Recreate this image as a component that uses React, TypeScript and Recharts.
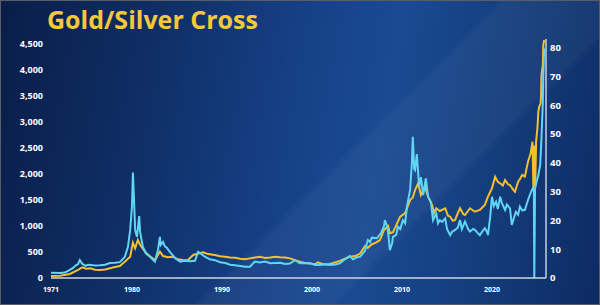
import React from 'react';
import { LineChart, Line, XAxis, YAxis } from 'recharts';

const TITLE = 'Gold/Silver Cross';
const yearTicks = [1971, 1980, 1990, 2000, 2010, 2020];
const goldTicks = [0, 500, 1000, 1500, 2000, 2500, 3000, 3500, 4000, 4500];
const silverTicks = [0, 10, 20, 30, 40, 50, 60, 70, 80];

// [year, gold price USD/oz] (left axis)
const gold: [number, number][] = [
  [1971.0, 38], [1972.0, 45], [1973.1, 77], [1974.0, 154], [1974.45, 206], [1974.9, 180],
  [1975.35, 187], [1975.9, 160], [1976.45, 154], [1977.0, 165], [1977.55, 187], [1978.1, 210],
  [1978.65, 231], [1979.2, 314], [1979.8, 410], [1980.1, 680], [1980.35, 571], [1980.65, 731],
  [1980.9, 640], [1981.1, 590], [1981.55, 487], [1982.0, 420], [1982.55, 346], [1982.8, 420],
  [1983.1, 507], [1983.45, 423], [1984.0, 400], [1984.55, 410], [1985.1, 360], [1985.65, 346],
  [1986.2, 340], [1986.8, 443], [1987.35, 470], [1987.9, 494], [1988.45, 460], [1989.2, 443],
  [1989.8, 420], [1990.35, 410], [1990.9, 395], [1991.45, 391], [1992.0, 370], [1992.55, 360],
  [1993.1, 378], [1993.65, 395], [1994.2, 410], [1994.8, 385], [1995.35, 395], [1995.9, 410],
  [1996.45, 400], [1997.0, 395], [1997.55, 378], [1998.1, 345], [1998.65, 314], [1999.2, 290],
  [1999.8, 280], [2000.35, 265], [2000.65, 300], [2001.1, 275], [2001.55, 260], [2002.0, 270],
  [2002.55, 300], [2003.1, 330], [2003.65, 370], [2004.2, 410], [2004.8, 423], [2005.35, 470],
  [2005.9, 616], [2006.2, 580], [2006.65, 650], [2007.1, 680], [2007.55, 731], [2008.0, 924],
  [2008.45, 1000], [2008.65, 860], [2009.0, 880], [2009.2, 956], [2009.8, 1180], [2010.35, 1250],
  [2010.9, 1501], [2011.2, 1550], [2011.45, 1694], [2011.8, 1823], [2012.1, 1598], [2012.55, 1758],
  [2012.9, 1565], [2013.35, 1405], [2013.55, 1250], [2013.8, 1342], [2014.2, 1290], [2014.8, 1342],
  [2015.1, 1200], [2015.35, 1180], [2015.65, 1100], [2015.9, 1117], [2016.2, 1250], [2016.45, 1342],
  [2016.8, 1230], [2017.0, 1213], [2017.55, 1342], [2018.1, 1276], [2018.65, 1309], [2019.2, 1405],
  [2019.55, 1565], [2020.0, 1727], [2020.35, 1950], [2020.65, 1850], [2020.9, 1823], [2021.2, 1780],
  [2021.45, 1886], [2021.8, 1800], [2022.0, 1790], [2022.35, 1700], [2022.55, 1661], [2022.9, 1854],
  [2023.1, 1900], [2023.35, 1983], [2023.65, 1950], [2024.0, 2239], [2024.3, 2400], [2024.5, 2624],
  [2024.6, 1733], [2024.7, 2550], [2024.8, 1760], [2024.9, 2624], [2025.05, 2888], [2025.15, 3201],
  [2025.25, 3298], [2025.4, 3362], [2025.45, 3523], [2025.5, 3908], [2025.65, 4100], [2025.7, 4485],
  [2025.8, 4580],
];

// [year, silver price USD/oz] (right axis)
const silver: [number, number][] = [
  [1971.0, 1.8], [1972.0, 1.7], [1972.55, 1.9], [1973.1, 2.8], [1973.45, 3.5], [1973.8, 4.5],
  [1974.0, 4.8], [1974.2, 6.2], [1974.45, 5.0], [1974.8, 4.2], [1975.1, 4.6], [1975.35, 4.5],
  [1975.9, 4.3], [1976.45, 4.4], [1977.0, 4.6], [1977.55, 5.2], [1978.1, 5.3], [1978.65, 5.5],
  [1979.2, 7.3], [1979.55, 10.8], [1979.8, 16.7], [1980.0, 25], [1980.1, 36.6], [1980.2, 29],
  [1980.35, 16.7], [1980.55, 14.3], [1980.8, 21.5], [1980.9, 16], [1981.2, 10.9], [1981.55, 8.5],
  [1982.0, 7.4], [1982.55, 5.7], [1982.9, 10], [1983.1, 14.3], [1983.2, 11.5], [1983.45, 12.5],
  [1983.65, 11], [1983.9, 10.4], [1984.2, 9.1], [1984.8, 6.9], [1985.35, 5.7], [1985.9, 6.0],
  [1986.45, 5.8], [1987.0, 6.0], [1987.35, 9.1], [1987.55, 8.7], [1988.1, 7.4], [1988.65, 6.5],
  [1989.2, 6.2], [1989.8, 5.5], [1990.35, 5.2], [1990.9, 4.6], [1991.45, 4.4], [1992.0, 4.2],
  [1992.55, 3.9], [1993.1, 3.9], [1993.65, 5.7], [1994.2, 5.4], [1994.8, 5.7], [1995.35, 5.1],
  [1995.9, 5.2], [1996.45, 5.3], [1997.0, 4.9], [1997.55, 5.0], [1998.1, 6.2], [1998.65, 5.1],
  [1999.2, 5.2], [1999.8, 5.1], [2000.35, 4.5], [2000.9, 4.5], [2001.45, 4.8], [2002.0, 4.5],
  [2002.55, 4.7], [2003.1, 5.1], [2003.65, 6.5], [2004.2, 7.6], [2004.55, 6.5], [2005.0, 7.2],
  [2005.35, 7.4], [2005.9, 9.5], [2006.2, 13.2], [2006.45, 12.5], [2006.65, 14], [2007.2, 13.8],
  [2007.65, 15.5], [2008.0, 18], [2008.1, 20.1], [2008.35, 17.8], [2008.45, 16], [2008.65, 9.7],
  [2008.9, 12], [2009.0, 14.3], [2009.35, 15], [2009.55, 17.8], [2009.8, 17], [2010.1, 20.1],
  [2010.35, 19], [2010.55, 24.8], [2010.9, 30.6], [2011.1, 40], [2011.2, 49], [2011.35, 38],
  [2011.45, 37.5], [2011.65, 43], [2011.9, 31.7], [2012.1, 35], [2012.35, 28.8], [2012.65, 34.6],
  [2012.9, 28.2], [2013.2, 26.5], [2013.45, 20.1], [2013.8, 22.5], [2014.0, 19], [2014.2, 20.1],
  [2014.45, 19.5], [2014.8, 20.7], [2015.0, 17], [2015.35, 14.9], [2015.55, 16], [2015.9, 16.7],
  [2016.2, 17.5], [2016.45, 20.1], [2016.65, 17], [2017.0, 19.6], [2017.35, 17], [2017.55, 16.1],
  [2017.9, 17], [2018.1, 16.7], [2018.45, 15.5], [2018.65, 14.9], [2019.0, 16.5], [2019.2, 17.3],
  [2019.45, 16.0], [2019.55, 14.9], [2019.8, 21.3], [2020.0, 28.2], [2020.2, 25], [2020.45, 26.5],
  [2020.65, 24], [2020.9, 28.2], [2021.1, 26], [2021.45, 23.6], [2021.65, 25.5], [2022.0, 24.2],
  [2022.2, 18.4], [2022.45, 21], [2022.65, 23], [2022.9, 22], [2023.1, 24.8], [2023.35, 23.5],
  [2023.65, 23.6], [2024.0, 27.1], [2024.35, 30], [2024.55, 31.2], [2024.65, 30.8], [2024.7, 0],
  [2024.78, 31], [2024.95, 33.4], [2025.15, 35.8], [2025.35, 39.2], [2025.45, 45], [2025.55, 53],
  [2025.65, 61.2], [2025.7, 70.5], [2025.8, 79.7],
];

const GOLD_COLOR = '#F4C02E';
const SILVER_COLOR = '#62D5F3';
const FONT = '"Open Sans", "DejaVu Sans", sans-serif';

export default function App() {
  const goldData = gold.map(([year, price]) => ({ year, price }));
  const silverData = silver.map(([year, price]) => ({ year, price }));

  return (
    <div
      style={{
        position: 'absolute',
        left: 0,
        top: 0,
        width: 600,
        height: 305,
        overflow: 'hidden',
        background:
          'linear-gradient(100deg, #0a1d48 0%, #0f2f66 25%, #17428a 50%, #1a4a92 62%, #143d7c 80%, #0d2a62 100%)',
        fontFamily: FONT,
      }}
    >
      <div
        style={{
          position: 'absolute',
          inset: 0,
          background:
            'linear-gradient(135deg, rgba(255,255,255,0) 55%, rgba(255,255,255,0.04) 56%, rgba(255,255,255,0.04) 70%, rgba(255,255,255,0) 71%)',
        }}
      />
      <div
        style={{
          position: 'absolute',
          left: 47,
          top: 2,
          fontFamily: FONT,
          fontWeight: 700,
          fontSize: 25,
          color: '#F6C83A',
          whiteSpace: 'nowrap',
        }}
      >
        {TITLE}
      </div>
      <div style={{ position: 'absolute', left: 0, top: 0 }}>
        <LineChart width={600} height={305} margin={{ top: 39, right: 0, bottom: 0, left: 0 }}>
          <XAxis
            dataKey="year"
            type="number"
            domain={[1971, 2026]}
            ticks={yearTicks}
            allowDataOverflow
            height={27}
            tickLine={false}
            tickSize={6}
            tickMargin={3}
            axisLine={{ stroke: '#cfd6e4', strokeWidth: 1.5 }}
            tick={{ fill: '#ffffff', fontSize: 7, fontWeight: 700, fontFamily: FONT }}
          />
          <YAxis
            yAxisId="gold"
            orientation="left"
            width={51}
            domain={[0, 4600]}
            ticks={goldTicks}
            allowDataOverflow
            axisLine={false}
            tickLine={false}
            tickSize={6}
            tickMargin={2}
            tickFormatter={(v: number) => v.toLocaleString('en-US')}
            tick={{ fill: '#ffffff', fontSize: 9, fontWeight: 700, fontFamily: FONT }}
          />
          <YAxis
            yAxisId="silver"
            orientation="right"
            width={54}
            domain={[0, 83]}
            ticks={silverTicks}
            allowDataOverflow
            axisLine={{ stroke: '#c9d1df', strokeWidth: 1.5 }}
            tickLine={false}
            tickSize={2}
            tickMargin={2}
            tick={{ fill: '#ffffff', fontSize: 9.5, fontWeight: 700, fontFamily: FONT }}
          />
          <Line
            yAxisId="gold"
            data={goldData}
            dataKey="price"
            type="linear"
            stroke={GOLD_COLOR}
            strokeWidth={2}
            dot={false}
            isAnimationActive={false}
          />
          <Line
            yAxisId="silver"
            data={silverData}
            dataKey="price"
            type="linear"
            stroke={SILVER_COLOR}
            strokeWidth={2}
            dot={false}
            isAnimationActive={false}
          />
        </LineChart>
      </div>
      <div
        style={{
          position: 'absolute',
          inset: 0,
          border: '1px solid #585d68',
          pointerEvents: 'none',
        }}
      />
    </div>
  );
}
